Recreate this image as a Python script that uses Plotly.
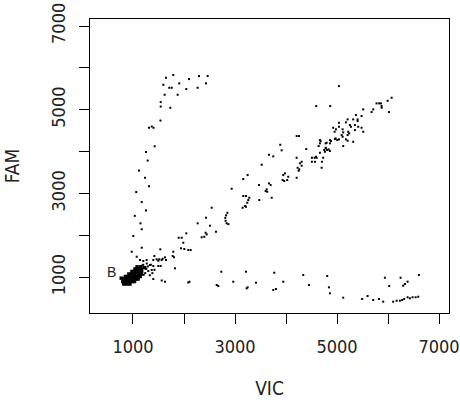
import plotly.graph_objects as go

# ---- data (VIC, FAM) ----
# dense cluster near (1000, 1000)
blob_vic = [820, 880, 940,
            800, 860, 920, 980, 1030,
            770, 820, 880, 940, 1000, 1060, 1100,
            850, 910, 970, 1030, 1090, 1140,
            920, 980, 1040, 1100, 1160,
            980, 1040, 1100, 1170,
            1040, 1100, 1160,
            1080, 1150, 1230]
blob_fam = [840, 840, 840,
            900, 900, 900, 900, 900,
            980, 960, 960, 960, 960, 960, 960,
            1020, 1020, 1020, 1020, 1020, 1020,
            1080, 1080, 1080, 1080, 1080,
            1140, 1140, 1140, 1140,
            1200, 1200, 1200,
            1250, 1250, 1230]

near_vic = [1260, 1300, 1240, 1290, 1350, 1200, 1420, 1330, 1380, 1210, 1180, 1270]
near_fam = [1200, 1150, 1100, 1260, 1300, 1300, 1180, 1050, 1100, 1060, 1280, 1330]

arm_vic = [1790, 1647, 2294, 2464, 2098, 1907, 1594, 2431, 1711, 1759, 2045, 2268, 1621, 1876, 1543, 1543, 1731, 1539,
           1314, 1367, 1402, 1425, 1255, 1288, 1118, 1235, 1314, 1063, 1171, 1255, 1035, 1147, 1171, 1006, 1171, 975,
           1073, 1137]
arm_fam = [5829, 5765, 5805, 5805, 5733, 5631, 5597, 5631, 5526, 5526, 5495, 5526, 5359, 5359, 5184, 5077, 5048, 4743,
           4571, 4600, 4571, 4129, 3991, 3788, 3549, 3377, 3175, 3036, 2797, 2594, 2468, 2289, 2148, 1986, 1707, 1611,
           1492, 1413]

diag_vic = [1202, 1268, 1333, 1367, 1398, 1398, 1418, 1464, 1496, 1496, 1515, 1535, 1543, 1563, 1582, 1627, 1647, 1778,
            1790, 1804, 1896, 1955, 1941, 1986, 2006, 2045, 2084, 2131, 2268, 2347, 2398, 2425, 2445, 2431, 2509, 2543,
            2627, 2850, 2825, 2810, 2815, 2835, 2870,
            2935, 3150, 3195, 3215, 3162, 3215, 3280, 3260, 3240, 3162, 3248, 3470, 3476, 3523, 3601, 3621, 3632, 3666,
            3699, 3719, 3666, 3750, 3887, 3915, 3946, 3934, 3965, 3979, 4024, 4044, 4209, 4209, 4209, 4254, 4228, 4260,
            4248, 4273, 4307, 4307, 4397, 4508, 4508, 4561, 4567, 4587, 4601, 4640, 4665, 4593, 4679, 4665, 4704, 4699,
            4730, 4763, 4783, 4797, 4808, 4836, 4861, 4881, 4861, 4777, 4665, 4861, 4750, 4777, 4867, 4926, 4979, 4953,
            4973, 5038, 5004, 4959, 5038, 5038, 5038, 5091, 5110, 5110, 5122, 5122, 5175, 5175, 5208, 5208, 5219, 5239,
            5208, 5253, 5273, 5318, 5318, 5351, 5351, 5371, 5404, 5404, 5416, 5482, 5482, 5514, 5514, 5678, 5710, 5776,
            5827, 5861, 5875, 5875, 5992, 6071, 6018]
diag_fam = [1389, 1413, 1294, 1174, 1270, 1413, 1508, 1430, 1396, 1270, 1430, 1668, 1270, 1413, 1444, 1477, 1413, 1508,
            1611, 1477, 1945, 1945, 1692, 1826, 1676, 2050, 1652, 1652, 2289, 1955, 1969, 2065, 2026, 2423, 2232, 2661,
            2088, 2540, 2480, 2420, 2350, 2290, 2270,
            3115, 2661, 2702, 2685, 2941, 2941, 2900, 2845, 2781, 3346, 3442, 3203, 2845, 3688, 3060, 3101, 3043, 3244,
            3203, 2900, 3926, 3888, 4165, 4032, 3442, 3323, 3299, 3482, 3323, 3401, 3377, 3855, 4373, 4373, 3616, 3578,
            3545, 3721, 3759, 3664, 4063, 3855, 3759, 3855, 3759, 3879, 3855, 4134, 3974, 5089, 4253, 4199, 3759, 3616,
            3855, 3998, 4079, 4213, 4039, 4055, 4015, 4253, 4199, 4199, 4277, 4277, 4039, 4094, 5089, 4571, 4533, 4476,
            4318, 4294, 4277, 4301, 5566, 4690, 4595, 4397, 4356, 4533, 4461, 4134, 4700, 4294, 4771, 4261, 4476, 4437,
            4397, 4635, 4595, 4771, 4237, 4635, 4516, 4874, 4771, 4731, 4595, 4850, 4571, 4476, 5010, 4946, 5010, 5153,
            5153, 5153, 5089, 5048, 5215, 5287, 4946]

low_vic = [1398, 1563, 1627, 1823, 2084, 2107, 2641, 2672, 2731, 2966, 3215, 3229, 3248, 3411, 3770, 3946, 3750, 3803,
           4338, 4450, 4808, 4842, 4861, 5122, 5494, 5600, 5710, 5822, 5906, 5939, 6023, 6102, 6169, 6233, 6278, 6317,
           6384, 6429, 6482, 6541, 6592, 6247, 6298, 6331, 6384, 6606]
low_fam = [959, 924, 895, 1215, 876, 895, 816, 792, 1134, 895, 1134, 737, 761, 871, 1110, 895, 697, 721,
           1055, 816, 1031, 761, 618, 513, 482, 554, 458, 482, 418, 990, 792, 418, 441, 441, 458, 482,
           523, 499, 523, 523, 537, 990, 799, 840, 895, 1055]

label_text = "B"
label_pos = (582, 1134)

tick_vals = [1000, 2000, 3000, 4000, 5000, 6000, 7000]
tick_text = ["1000", "", "3000", "", "5000", "", "7000"]

FONT = "Liberation Sans Narrow, DejaVu Sans Condensed, Liberation Sans, Arial, sans-serif"

fig = go.Figure()
for xs, ys, sz in [(blob_vic, blob_fam, 3.5), (near_vic, near_fam, 2), (arm_vic, arm_fam, 2),
                   (diag_vic, diag_fam, 2), (low_vic, low_fam, 2)]:
    fig.add_trace(go.Scatter(x=xs, y=ys, mode="markers",
                             marker=dict(symbol="square", size=sz, color="black", line=dict(width=0)),
                             showlegend=False, hoverinfo="skip"))

fig.add_annotation(x=label_pos[0], y=label_pos[1], text=label_text, showarrow=False,
                   font=dict(family="Liberation Sans, Arial, sans-serif", size=14, color="#222"),
                   xanchor="center", yanchor="middle")

axis_common = dict(showline=True, mirror=True, linecolor="black", linewidth=1,
                   ticks="outside", ticklen=10, tickcolor="black", tickwidth=1,
                   showgrid=False, zeroline=False, tickvals=tick_vals, ticktext=tick_text,
                   tickfont=dict(family=FONT, size=18, color="#222"), automargin=False,
                   ticklabeloverflow="allow")

fig.update_layout(
    width=460, height=407,
    margin=dict(l=90, r=11, t=19, b=94),
    paper_bgcolor="white", plot_bgcolor="white",
    xaxis=dict(range=[157, 7196], title=dict(text="VIC", font=dict(family=FONT, size=19, color="#222"), standoff=26),
               ticklabelstandoff=7, **axis_common),
    yaxis=dict(range=[148, 7168], title=dict(text="FAM", font=dict(family=FONT, size=19, color="#222"), standoff=23),
               tickangle=-90, ticklabelstandoff=7, **axis_common),
)

# remove the default 8px page margin so the figure fills the 460x407 window
fig.write_html("out.html", config={"displayModeBar": False},
               post_script="document.body.style.margin='0';")
